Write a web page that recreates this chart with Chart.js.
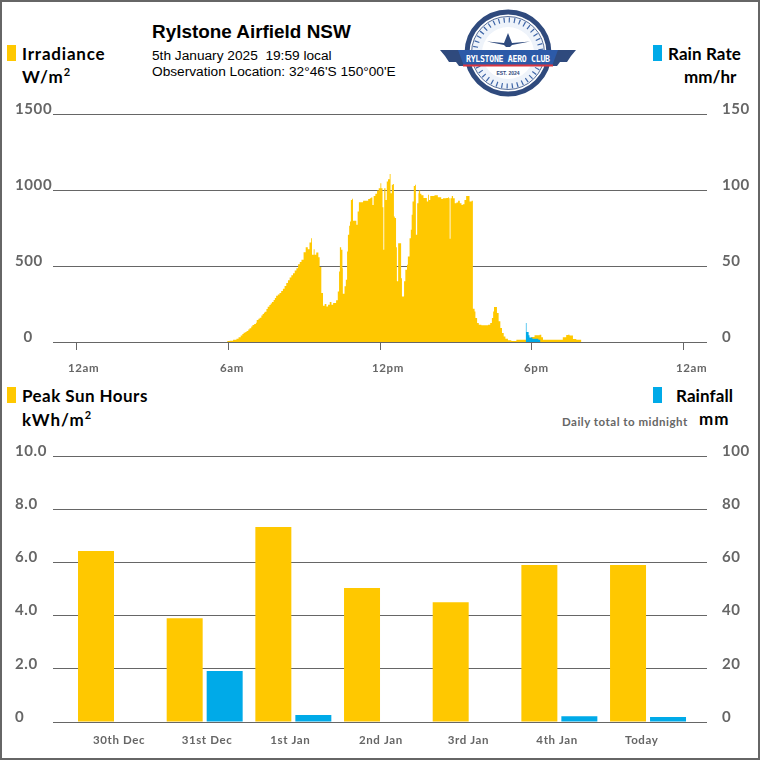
<!DOCTYPE html>
<html>
<head>
<meta charset="utf-8">
<title>Rylstone Airfield NSW</title>
<script src="https://cdn.jsdelivr.net/npm/chart.js@4"></script>
<style>
  html, body { margin: 0; padding: 0; background: #fff; }
  #frame { position: relative; width: 760px; height: 760px; box-sizing: border-box; border: 2px solid #666; overflow: hidden; }
  #page { position: absolute; left: -2px; top: -2px; width: 760px; height: 760px; }
  canvas { position: absolute; left: 0; }
  .txt { position: absolute; white-space: pre; color: #000; line-height: 1; }
  .leg { font: 700 17px Lato, sans-serif; }
  .sub { font: 13.7px "Liberation Sans", sans-serif; }
  .swatch { position: absolute; width: 9px; height: 16px; }
  sup { font-size: 11px; line-height: 0; }
</style>
</head>
<body>
<div id="frame"><div id="page">
  <canvas id="rate-chart" width="760" height="280" style="top:100px"></canvas>
  <canvas id="daily-chart" width="760" height="318" style="top:440px"></canvas>

  <div class="txt" style="left:152px;top:21px;font:700 18.9px 'Liberation Sans',sans-serif">Rylstone Airfield NSW</div>
  <div class="txt sub" style="left:152px;top:48px">5th January 2025  19:59 local</div>
  <div class="txt sub" style="left:152px;top:64px">Observation Location: 32°46'S 150°00'E</div>

  <div class="swatch" style="left:7px;top:45px;background:#ffc800"></div>
  <div class="txt leg" style="left:22px;top:43px;letter-spacing:.8px">Irradiance</div>
  <div class="txt leg" style="left:22px;top:66px;letter-spacing:1px">W/m<sup>2</sup></div>

  <div class="swatch" style="left:653px;top:45px;background:#00aae8"></div>
  <div class="txt leg" style="left:668px;top:43px;letter-spacing:.1px">Rain Rate</div>
  <div class="txt leg" style="left:684px;top:66px">mm/hr</div>

  <div class="swatch" style="left:7px;top:387px;background:#ffc800"></div>
  <div class="txt leg" style="left:22px;top:385px;letter-spacing:.45px">Peak Sun Hours</div>
  <div class="txt leg" style="left:22px;top:409px;letter-spacing:1px">kWh/m<sup>2</sup></div>

  <div class="swatch" style="left:653px;top:387px;background:#00aae8"></div>
  <div class="txt leg" style="left:676px;top:385px;letter-spacing:.1px">Rainfall</div>
  <div class="txt leg" style="left:699px;top:408px;letter-spacing:1px">mm</div>
  <div class="txt" style="left:562px;top:415px;font:700 11.5px Lato,sans-serif;color:#666;letter-spacing:.5px">Daily total to midnight</div>

  <svg style="position:absolute;left:438px;top:8px" width="140" height="92" viewBox="438 8 140 92">
    <circle cx="508" cy="53" r="41" fill="#fff" stroke="#2f4a7d" stroke-width="5"/>
    <circle cx="508" cy="53" r="36.5" fill="#eef3fa" stroke="#2f4a7d" stroke-width="0.8"/>
    <circle cx="508" cy="53" r="33" fill="none" stroke="#3f66a8" stroke-width="5" stroke-dasharray="1.2 4"/>
    <circle cx="508" cy="53" r="26" fill="#fff"/>
    <path d="M487 41.5 L504 43 L506 38 L508 33 L510 38 L512 43 L530 41.5 L512 45 L510 47 H506 L504 45 Z" fill="#2f4a7d"/>
    <path d="M440 50 H462 L466 66 H459 L456 62 H449 L445 56 Z" fill="#2f4a7d"/>
    <path d="M576 50 H554 L550 66 H557 L560 62 H567 L571 56 Z" fill="#2f4a7d"/>
    <path d="M458 50 H558 L552 66 H464 Z" fill="#2c5aa8"/>
    <path d="M463 65.5 H553" stroke="#d9343f" stroke-width="2"/>
    <text x="508" y="61.5" text-anchor="middle" fill="#fff" font-family="'DejaVu Sans Mono',monospace" font-size="8.2" font-weight="700" textLength="84">RYLSTONE AERO CLUB</text>
    <text x="508" y="75" text-anchor="middle" fill="#2f4a7d" font-family="'Liberation Sans',sans-serif" font-size="5" font-weight="700">EST. 2024</text>
  </svg>
</div></div>

<script>
// minutes after midnight where each reading starts, then the reading in W/m2
const irradianceMinutes = [
  358, 364, 372, 380, 385, 390, 394, 397, 401, 404, 408, 411, 415, 418, 422, 426, 428, 432, 435, 439,
  442, 445, 447, 451, 454, 458, 461, 464, 468, 471, 474, 478, 482, 486, 490, 494, 498, 502, 506, 510,
  514, 518, 522, 526, 530, 534,
  539, 544, 549, 553, 557, 559, 563, 565, 569, 574, 577, 581, 585, 589, 593, 597, 601,
  605, 609, 612, 616, 620, 623, 625, 628, 631, 632, 636, 639, 642, 644, 647, 649, 651, 654, 656, 661,
  664, 667, 670, 680, 688, 692, 696, 699, 702, 705, 709, 713, 717, 721, 723, 726, 728, 730, 733, 736,
  739, 743, 745, 748, 751, 753, 755, 758, 760, 763, 767, 770, 772, 775, 777, 780, 784, 786, 790, 793,
  795, 797, 800, 803, 805, 808, 811, 812, 815, 818, 823, 830, 831, 834, 836, 839, 844, 849, 857, 865,
  869, 877, 881, 883, 885, 887, 890, 893, 897, 901, 905, 909, 913, 916, 920, 924, 928, 932, 937, 940,
  944, 946, 950, 954, 960, 968, 976, 981, 985, 988, 990, 994, 997, 1001, 1005, 1009, 1013, 1017, 1023, 1031,
  1043, 1078, 1086, 1098, 1102, 1106, 1145, 1153, 1161, 1165, 1169, 1177, 1185, 1197,
];
const irradianceValues = [
  7, 9, 14, 22, 31, 42, 52, 61, 66, 72, 82, 90, 102, 112, 119, 127, 145, 153, 160, 174,
  184, 192, 199, 217, 232, 243, 254, 263, 276, 290, 304, 312, 322, 335, 350, 368, 388, 406, 425, 439,
  453, 470, 486, 512, 526, 541,
  591, 624, 611, 655, 683, 574, 611, 574, 589, 558, 493, 322, 239, 250, 234, 245, 263,
  245, 256, 256, 274, 333, 464, 624, 607, 486, 318, 366, 410, 596, 705, 764, 793, 935, 942, 797, 797,
  771, 858, 920, 929, 929, 940, 946, 950, 902, 961, 975, 996, 1012, 1045, 1012, 887, 607, 1012, 935, 1056,
  1071, 1106, 979, 1034, 1040, 826, 815, 624, 399, 650, 650, 420, 300, 300, 399, 475, 508, 563, 683, 738,
  837, 924, 1027, 1034, 705, 913, 979, 996, 975, 966, 948, 948, 924, 968, 935, 961, 961, 966, 953, 940,
  946, 948, 953, 946, 679, 946, 961, 946, 913, 918, 929, 913, 902, 907, 935, 961, 961, 924, 929, 219,
  201, 158, 125, 114, 110, 110, 114, 125, 158, 201, 230, 230, 191, 136, 92, 59, 37, 22, 11, 7,
  15, 33, 44, 48, 31, 15, 15, 31, 46, 48, 42, 20, 15, 0,
];
const rainRateMinutes = [1065, 1067, 1072, 1074, 1081, 1089, 1095, 1100];
const rainRateValues = [12.5, 6.6, 4.4, 3, 2.2, 2.2, 1.5, 0];

const hourTicks = [0, 360, 720, 1080, 1440];
const hourLabels = ["12am", "6am", "12pm", "6pm", "12am"];
const irradianceTicks = [0, 500, 1000, 1500];
const irradianceTickLabels = ["  0", "500", "1000", "1500"];
const rainRateTicks = [0, 50, 100, 150];

const days = ["30th Dec", "31st Dec", "1st Jan", "2nd Jan", "3rd Jan", "4th Jan", "Today"];
const sunHours = [6.43, 3.9, 7.33, 5.04, 4.5, 5.9, 5.9];
const rainfall = [0, 19.2, 2.6, 0, 0, 2.2, 1.9];
const sunTicks = [0, 2, 4, 6, 8, 10];
const sunTickLabels = ["0", "2.0", "4.0", "6.0", "8.0", "10.0"];
const rainfallTicks = [0, 20, 40, 60, 80, 100];

const YELLOW = "#ffc800";
const BLUE = "#00aae8";
const GREY = "#666666";
const TICK_FONT = { family: "Lato, sans-serif", size: 15, weight: "700" };
const X_FONT = { family: "Lato, sans-serif", size: 11.5, weight: "700" };

const spacedText = {
  id: "spacedText",
  beforeDraw(chart) {
    chart.ctx.letterSpacing = "0.6px";
  },
};

function fixedTicks(values) {
  return (scale) => {
    scale.ticks = values.map((value) => ({ value }));
  };
}

function flushEnds(scale) {
  scale.paddingTop = 0;
  scale.paddingBottom = 0;
}

function leftAxis(max, values, labels) {
  return {
    position: "left",
    min: 0,
    max,
    afterBuildTicks: fixedTicks(values),
    afterFit: (scale) => {
      scale.width = 38;
      flushEnds(scale);
    },
    border: { display: false },
    grid: { color: GREY, lineWidth: 1, drawTicks: false },
    ticks: {
      color: GREY,
      font: TICK_FONT,
      crossAlign: "far",
      labelOffset: -5,
      padding: 0,
      callback: (value) => labels[values.indexOf(value)],
    },
  };
}

function rightAxis(max, values) {
  return {
    position: "right",
    min: 0,
    max,
    afterBuildTicks: fixedTicks(values),
    afterFit: (scale) => {
      scale.width = 53;
      flushEnds(scale);
    },
    border: { display: false },
    grid: { drawOnChartArea: false, drawTicks: false },
    ticks: { color: GREY, font: TICK_FONT, labelOffset: -5, padding: 15 },
  };
}

const baseOptions = {
  responsive: false,
  animation: false,
  events: [],
  plugins: { legend: { display: false }, tooltip: { enabled: false } },
};

new Chart(document.getElementById("rate-chart"), {
  type: "line",
  plugins: [spacedText],
  data: {
    datasets: [
      {
        label: "Rain Rate",
        yAxisID: "yRain",
        order: 0,
        data: rainRateMinutes.map((x, i) => ({ x, y: rainRateValues[i] })),
        stepped: true,
        fill: "origin",
        backgroundColor: BLUE,
        borderWidth: 0,
        pointRadius: 0,
      },
      {
        label: "Irradiance",
        yAxisID: "y",
        order: 1,
        data: irradianceMinutes.map((x, i) => ({ x, y: irradianceValues[i] })),
        stepped: true,
        fill: "origin",
        backgroundColor: YELLOW,
        borderWidth: 0,
        pointRadius: 0,
      },
    ],
  },
  options: {
    ...baseOptions,
    layout: { padding: { left: 15, top: 14, right: 0, bottom: 0 } },
    scales: {
      x: {
        type: "linear",
        min: -54.5,
        max: 1494.5,
        afterBuildTicks: fixedTicks(hourTicks),
        afterFit: (scale) => { scale.height = 38; },
        border: { display: false },
        grid: { drawOnChartArea: false, color: GREY, tickLength: 8 },
        ticks: {
          color: GREY,
          font: X_FONT,
          align: "start",
          labelOffset: -8,
          padding: 11,
          maxRotation: 0,
          autoSkip: false,
          callback: (value) => hourLabels[hourTicks.indexOf(value)],
        },
      },
      y: leftAxis(1500, irradianceTicks, irradianceTickLabels),
      yRain: rightAxis(150, rainRateTicks),
    },
  },
});

new Chart(document.getElementById("daily-chart"), {
  type: "bar",
  plugins: [spacedText],
  data: {
    datasets: [
      {
        label: "Peak Sun Hours",
        yAxisID: "y",
        data: sunHours.map((y, x) => ({ x, y })),
        backgroundColor: YELLOW,
        categoryPercentage: 0.902,
        barPercentage: 0.9,
      },
      {
        label: "Rainfall",
        yAxisID: "yRain",
        data: rainfall.map((y, x) => ({ x, y })),
        backgroundColor: BLUE,
        categoryPercentage: 0.902,
        barPercentage: 0.9,
      },
    ],
  },
  options: {
    ...baseOptions,
    layout: { padding: { left: 15, top: 16, right: 0, bottom: 0 } },
    scales: {
      x: {
        type: "linear",
        offset: false,
        min: -0.7105,
        max: 6.665,
        afterBuildTicks: fixedTicks(days.map((_, i) => i)),
        afterFit: (scale) => { scale.height = 36; },
        border: { display: false },
        grid: { drawOnChartArea: false, drawTicks: false, offset: false },
        ticks: {
          color: GREY,
          font: X_FONT,
          align: "start",
          labelOffset: -23,
          padding: 11,
          maxRotation: 0,
          autoSkip: false,
          callback: (value) => days[value],
        },
      },
      y: leftAxis(10, sunTicks, sunTickLabels),
      yRain: rightAxis(100, rainfallTicks),
    },
  },
});
</script>
</body>
</html>
